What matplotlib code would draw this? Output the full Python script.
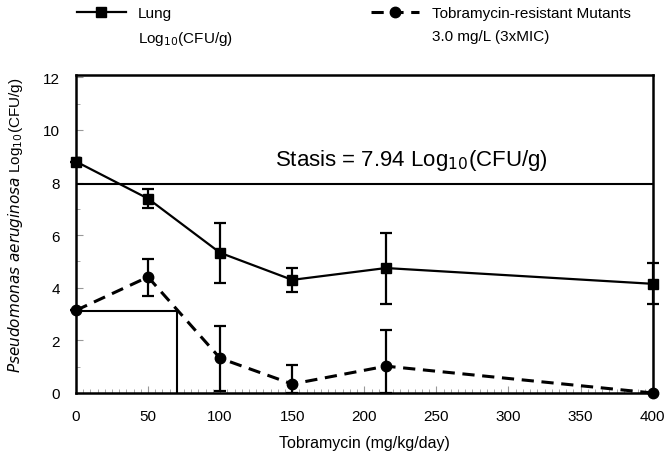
import matplotlib.pyplot as plt
from matplotlib.lines import Line2D
from matplotlib.ticker import MultipleLocator

# values
dose = [0, 50, 100, 150, 215, 400]
lung = [8.8, 7.39, 5.33, 4.30, 4.75, 4.15]
lung_err = [0.0, 0.36, 1.13, 0.45, 1.35, 0.78]
mutants = [3.14, 4.41, 1.32, 0.34, 1.02, 0.0]
mut_err_up = [0.0, 0.70, 1.24, 0.74, 1.38, 0.0]
mut_err_dn = [0.0, 0.72, 1.24, 0.34, 1.02, 0.0]
stasis = 7.94
mic_dose = 70
mic_level = 3.1

plt.rcParams['font.family'] = ['Liberation Sans', 'DejaVu Sans']

fig = plt.figure(figsize=(6.66, 4.56), dpi=100)
ax = fig.add_axes([0.114, 0.136, 0.866, 0.698])

ax.axhline(stasis, color='black', lw=1.5)
ax.plot([0, mic_dose, mic_dose], [mic_level, mic_level, 0], color='black', lw=1.5)

ax.errorbar(dose, lung, yerr=lung_err, color='black', lw=1.6, marker='s', ms=7,
            capsize=4.5, capthick=1.6, elinewidth=1.6, clip_on=False, zorder=3)
ax.errorbar(dose, mutants, yerr=[mut_err_dn, mut_err_up], color='black', lw=2.2,
            dashes=(4, 2.5), marker='o', ms=7.5, capsize=4.5, capthick=1.6,
            elinewidth=1.6, clip_on=False, zorder=3)

ax.text(0.345, 0.735, 'Stasis = 7.94 Log$_{10}$(CFU/g)', transform=ax.transAxes,
        fontsize=16, ha='left', va='center')

ax.set_xlim(0, 400)
ax.set_ylim(0, 12.1)
ax.xaxis.set_major_locator(MultipleLocator(50))
ax.xaxis.set_minor_locator(MultipleLocator(5))
ax.yaxis.set_major_locator(MultipleLocator(2))
ax.yaxis.set_minor_locator(MultipleLocator(1))
ax.tick_params(which='both', direction='in', color='#999999')
ax.tick_params(which='major', length=5, labelsize=11, pad=11.5)
ax.tick_params(which='minor', length=3)
for s in ax.spines.values():
    s.set_linewidth(1.8)

ax.set_xlabel('Tobramycin (mg/kg/day)', fontsize=11.5, labelpad=9)
ax.set_ylabel(r'$\it{Pseudomonas\ aeruginosa}$ Log$_{10}$(CFU/g)', fontsize=11)
ax.yaxis.set_label_coords(-0.088, 0.53)

blank = Line2D([], [], linestyle='none')
h_lung = Line2D([], [], color='black', lw=1.6, marker='s', ms=7)
h_mut = Line2D([], [], color='black', lw=2.2, dashes=(4, 2.5), marker='o', ms=7.5)
fig.legend([h_lung, blank, h_mut, blank],
           ['Lung', 'Log$_{10}$(CFU/g)', 'Tobramycin-resistant Mutants', '3.0 mg/L (3xMIC)'],
           ncol=2, loc='upper left', bbox_to_anchor=(0.095, 1.015), frameon=False,
           fontsize=11, handlelength=3.2, columnspacing=9, labelspacing=0.6)

fig.savefig('out.png', dpi=100)
